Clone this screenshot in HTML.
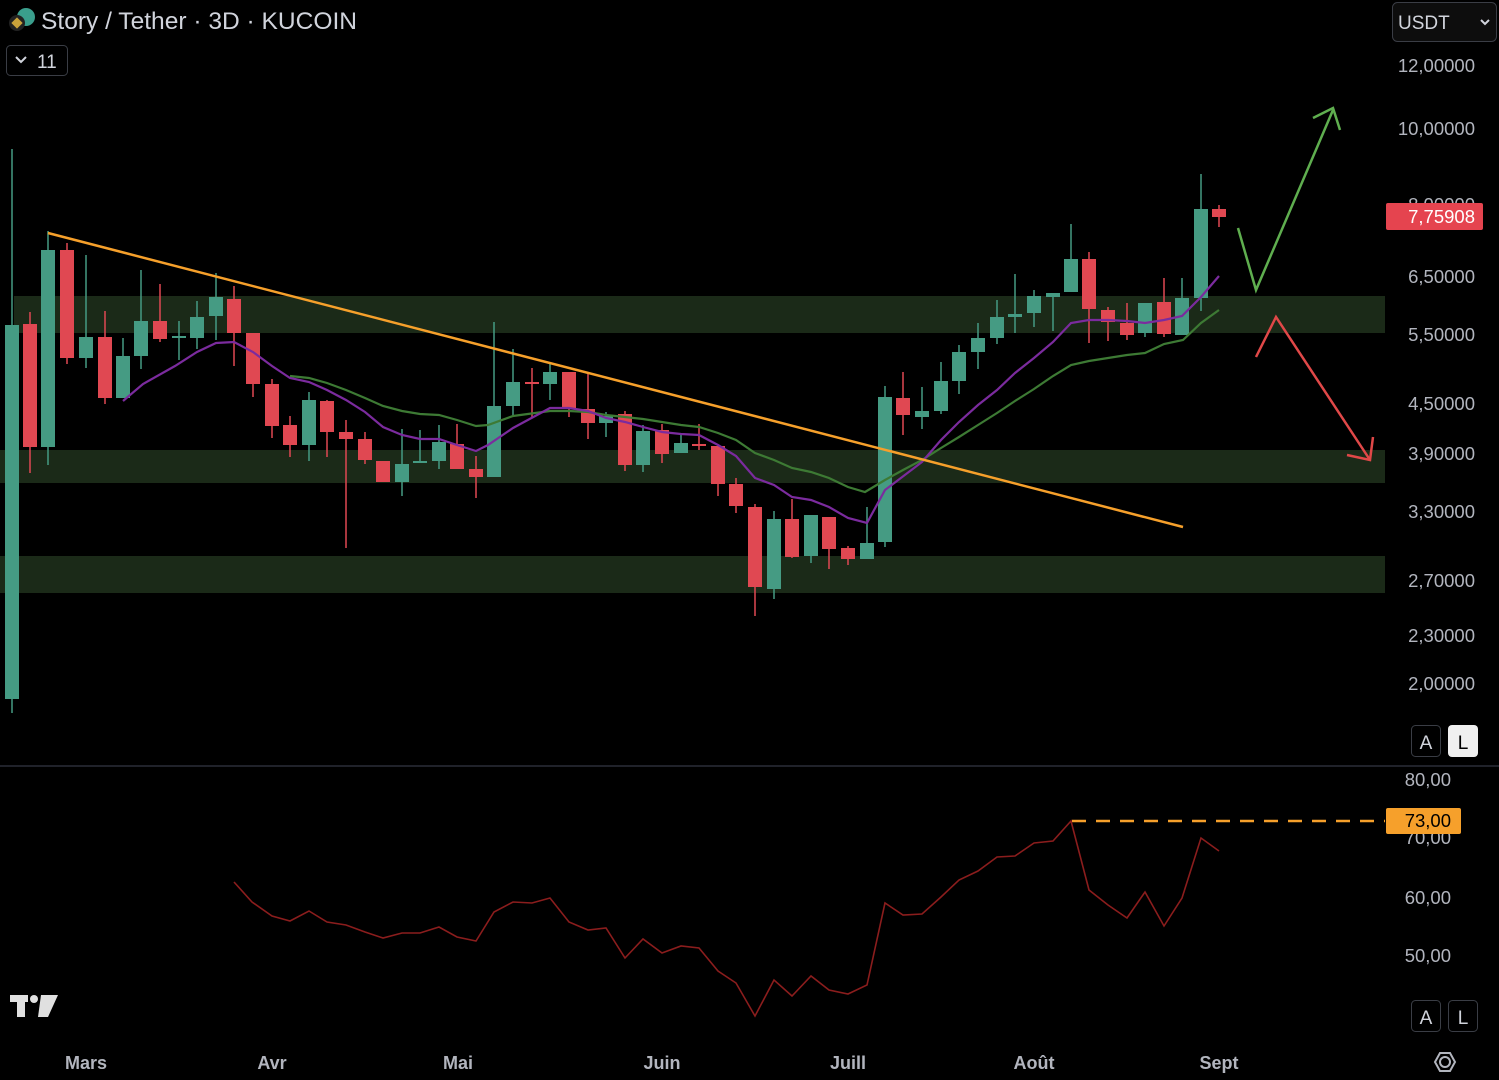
<!DOCTYPE html>
<html><head><meta charset="utf-8"><style>
html,body{margin:0;padding:0;background:#000;}
svg{display:block;}
text{font-family:"Liberation Sans",sans-serif;}
</style></head><body>
<svg id="s" width="1499" height="1080" viewBox="0 0 1499 1080" xmlns="http://www.w3.org/2000/svg">
<rect width="1499" height="1080" fill="#000"/>
<rect x="14" y="296" width="1371" height="37" fill="#1b2a18"/>
<rect x="0" y="450" width="1385" height="33" fill="#1b2a18"/>
<rect x="0" y="556" width="1385" height="37" fill="#1b2a18"/>
<g id="candles"></g>
<polyline id="ma2" fill="none" stroke="#3d7a34" stroke-width="2.2"/>
<polyline id="ma1" fill="none" stroke="#7b2b9e" stroke-width="2.2"/>
<line x1="48" y1="233" x2="1183" y2="527" stroke="#f6a02b" stroke-width="2.5"/>
<polyline points="1238,228 1256,290 1333,110" fill="none" stroke="#5fae4f" stroke-width="2.5"/>
<polyline points="1313,118 1333,108 1340,130" fill="none" stroke="#5fae4f" stroke-width="2.5"/>
<polyline points="1256,357 1276,317 1370,460" fill="none" stroke="#e04848" stroke-width="2.5"/>
<polyline points="1347,455 1370,460 1373,437" fill="none" stroke="#e04848" stroke-width="2.5"/>
<g fill="#b2b5be" font-size="18.5" text-anchor="end">
<text x="1475" y="72">12,00000</text>
<text x="1475" y="135">10,00000</text>
<text x="1475" y="211">8,00000</text>
<text x="1475" y="283">6,50000</text>
<text x="1475" y="341">5,50000</text>
<text x="1475" y="410">4,50000</text>
<text x="1475" y="460">3,90000</text>
<text x="1475" y="518">3,30000</text>
<text x="1475" y="587">2,70000</text>
<text x="1475" y="642">2,30000</text>
<text x="1475" y="690">2,00000</text>
<text x="1451" y="786">80,00</text>
<text x="1451" y="844">70,00</text>
<text x="1451" y="904">60,00</text>
<text x="1451" y="962">50,00</text>
</g>
<rect x="1386" y="203" width="97" height="27" rx="2" fill="#e5444f"/>
<text x="1475" y="223" fill="#fff" font-size="18.5" text-anchor="end">7,75908</text>
<circle cx="26" cy="17" r="9" fill="#3a9e8c"/>
<circle cx="17" cy="23" r="8" fill="#222"/>
<rect x="13" y="19" width="8" height="8" fill="#c9a23a" transform="rotate(45 17 23)"/>
<text x="41" y="29" fill="#d1d4dc" font-size="24" textLength="316" lengthAdjust="spacingAndGlyphs">Story / Tether · 3D · KUCOIN</text>
<rect x="6.5" y="45.5" width="61" height="30" rx="4" fill="none" stroke="#3a3d45"/>
<polyline points="16,57 21,62 26,57" fill="none" stroke="#d1d4dc" stroke-width="2"/>
<text x="37" y="68" fill="#d1d4dc" font-size="19">11</text>
<rect x="1392.5" y="2.5" width="104" height="39" rx="5" fill="#0d0d0d" stroke="#3a3d45"/>
<text x="1398" y="29" fill="#d1d4dc" font-size="19">USDT</text>
<polyline points="1481,20 1485,24 1489,20" fill="none" stroke="#d1d4dc" stroke-width="2"/>
<rect x="1411.5" y="725.5" width="29" height="31" rx="4" fill="#000" stroke="#3a3d45"/>
<text x="1426" y="749" fill="#d1d4dc" font-size="19" text-anchor="middle">A</text>
<rect x="1448" y="725" width="30" height="32" rx="4" fill="#f0f0f0"/>
<text x="1463" y="749" fill="#000" font-size="19" text-anchor="middle">L</text>
<rect x="1411.5" y="1000.5" width="29" height="31" rx="4" fill="#000" stroke="#3a3d45"/>
<text x="1426" y="1024" fill="#d1d4dc" font-size="19" text-anchor="middle">A</text>
<rect x="1448.5" y="1000.5" width="29" height="31" rx="4" fill="#000" stroke="#3a3d45"/>
<text x="1463" y="1024" fill="#d1d4dc" font-size="19" text-anchor="middle">L</text>
<line x1="0" y1="766" x2="1499" y2="766" stroke="#2a2e39" stroke-width="1.5"/>
<line x1="1072" y1="821" x2="1385" y2="821" stroke="#f6a02b" stroke-width="2.5" stroke-dasharray="14,10"/>
<polyline id="rsi" fill="none" stroke="#8b1d1d" stroke-width="1.6"/>
<rect x="1386" y="808" width="75" height="26" rx="2" fill="#f6a02b"/>
<text x="1451" y="827" fill="#000" font-size="18.5" text-anchor="end">73,00</text>
<g fill="#e0e0e0">
<rect x="10" y="995" width="18" height="7"/><rect x="17" y="995" width="8" height="22"/>
<circle cx="34" cy="999" r="4"/>
<polygon points="41,995 58,995 48,1017 38,1017"/>
</g>
<g fill="#b2b5be" font-size="18" font-weight="bold" text-anchor="middle">
<text x="86" y="1069">Mars</text><text x="272" y="1069">Avr</text><text x="458" y="1069">Mai</text>
<text x="662" y="1069">Juin</text><text x="848" y="1069">Juill</text><text x="1034" y="1069">Août</text><text x="1219" y="1069">Sept</text>
</g>
<circle cx="1445" cy="1062" r="5" fill="none" stroke="#b2b5be" stroke-width="2"/>
<polygon points="1435,1062 1440,1053 1450,1053 1455,1062 1450,1071 1440,1071" fill="none" stroke="#b2b5be" stroke-width="2"/>
</svg>
<script>
var C=[[12,699,325,149,713],[30,324,447,312,473],[48,447,250,231,465],[67,250,358,243,364],[86,358,337,255,368],[105,337,398,311,404],[123,398,356,338,398],[141,356,321,270,369],[160,321,339,284,342],[179,338,336,321,360],[197,338,317,301,349],[216,316,297,273,340],[234,299,333,286,366],[253,333,384,333,397],[272,384,426,379,438],[290,425,445,416,457],[309,445,400,392,461],[327,401,432,400,457],[346,432,439,420,548],[365,439,460,432,464],[383,461,482,461,482],[402,482,464,429,496],[420,463,461,430,463],[439,461,442,425,469],[457,444,469,424,469],[476,469,477,456,498],[494,477,406,322,477],[513,406,382,349,417],[532,382,384,368,417],[550,384,372,363,400],[569,372,409,372,417],[588,409,423,374,439],[606,423,416,412,437],[625,414,465,411,471],[643,465,431,425,472],[662,430,454,424,463],[681,453,443,434,453],[699,444,446,424,450],[718,446,484,446,496],[736,484,506,478,513],[755,507,587,504,616],[774,589,519,511,599],[792,519,557,499,558],[811,556,515,515,563],[829,517,549,517,569],[848,548,559,546,565],[867,559,543,507,559],[885,542,397,386,547],[903,398,415,372,435],[922,417,411,387,429],[941,411,381,362,414],[959,381,352,345,394],[978,352,338,323,369],[997,338,317,300,344],[1015,317,314,274,333],[1034,313,296,290,327],[1053,297,293,293,331],[1071,292,259,224,292],[1089,259,309,252,343],[1108,310,322,307,341],[1127,323,335,303,340],[1145,333,303,303,337],[1164,302,334,278,337],[1182,335,298,278,335],[1201,298,209,174,311],[1219,209,217,205,227]];
var g=document.getElementById('candles'),h='';
C.forEach(function(c){var x=c[0],o=c[1],cl=c[2],hi=c[3],lo=c[4];var up=cl<=o;var col=up?'#459b83':'#e04852';
var top=Math.min(o,cl),bh=Math.max(Math.abs(o-cl),2);
h+='<line x1="'+x+'" y1="'+hi+'" x2="'+x+'" y2="'+lo+'" stroke="'+col+'" stroke-width="1.5"/>';
h+='<rect x="'+(x-7)+'" y="'+top+'" width="14" height="'+bh+'" fill="'+col+'"/>';});
g.innerHTML=h;
document.getElementById('ma1').setAttribute('points','123,401 143,384 175,366 197,352 216,343 234,342 253,352 272,366 290,378 309,382 327,390 346,400 365,412 383,427 402,435 420,439 439,439 457,445 476,451 488,445 513,428 550,408 569,408 588,411 606,418 625,422 643,427 662,432 681,434 699,435 718,445 736,456 755,478 774,485 792,497 811,500 829,507 848,518 867,523 885,490 922,462 941,440 959,422 978,405 997,390 1015,373 1034,358 1053,342 1071,323 1089,320 1108,320 1127,321 1145,323 1164,320 1182,316 1201,297 1219,276');
document.getElementById('ma2').setAttribute('points','290,376 309,378 327,383 346,390 365,398 383,406 402,411 420,414 439,415 457,420 476,426 488,425 513,416 550,411 569,411 588,412 606,415 625,417 643,419 662,422 681,425 699,427 718,433 736,440 755,453 774,460 792,468 811,472 829,478 848,487 865,492 885,480 903,470 922,460 941,448 959,437 978,425 997,413 1015,401 1034,389 1053,376 1071,365 1089,361 1108,358 1127,355 1145,353 1164,344 1183,340 1201,323 1219,310');
document.getElementById('rsi').setAttribute('points','234,882 252,902 272,916 290,921 309,911 327,922 346,925 365,932 383,938 402,933 420,933 439,927 457,937 476,941 494,912 513,902 532,903 550,898 569,922 588,930 606,928 625,958 643,939 662,953 681,946 699,948 718,971 736,983 755,1016 774,980 792,996 811,976 829,990 848,994 867,985 885,903 903,915 922,914 941,897 959,880 978,871 997,857 1015,856 1034,843 1053,841 1071,821 1089,890 1108,905 1127,918 1145,892 1164,926 1182,898 1201,838 1219,851');
</script>
</body></html>
